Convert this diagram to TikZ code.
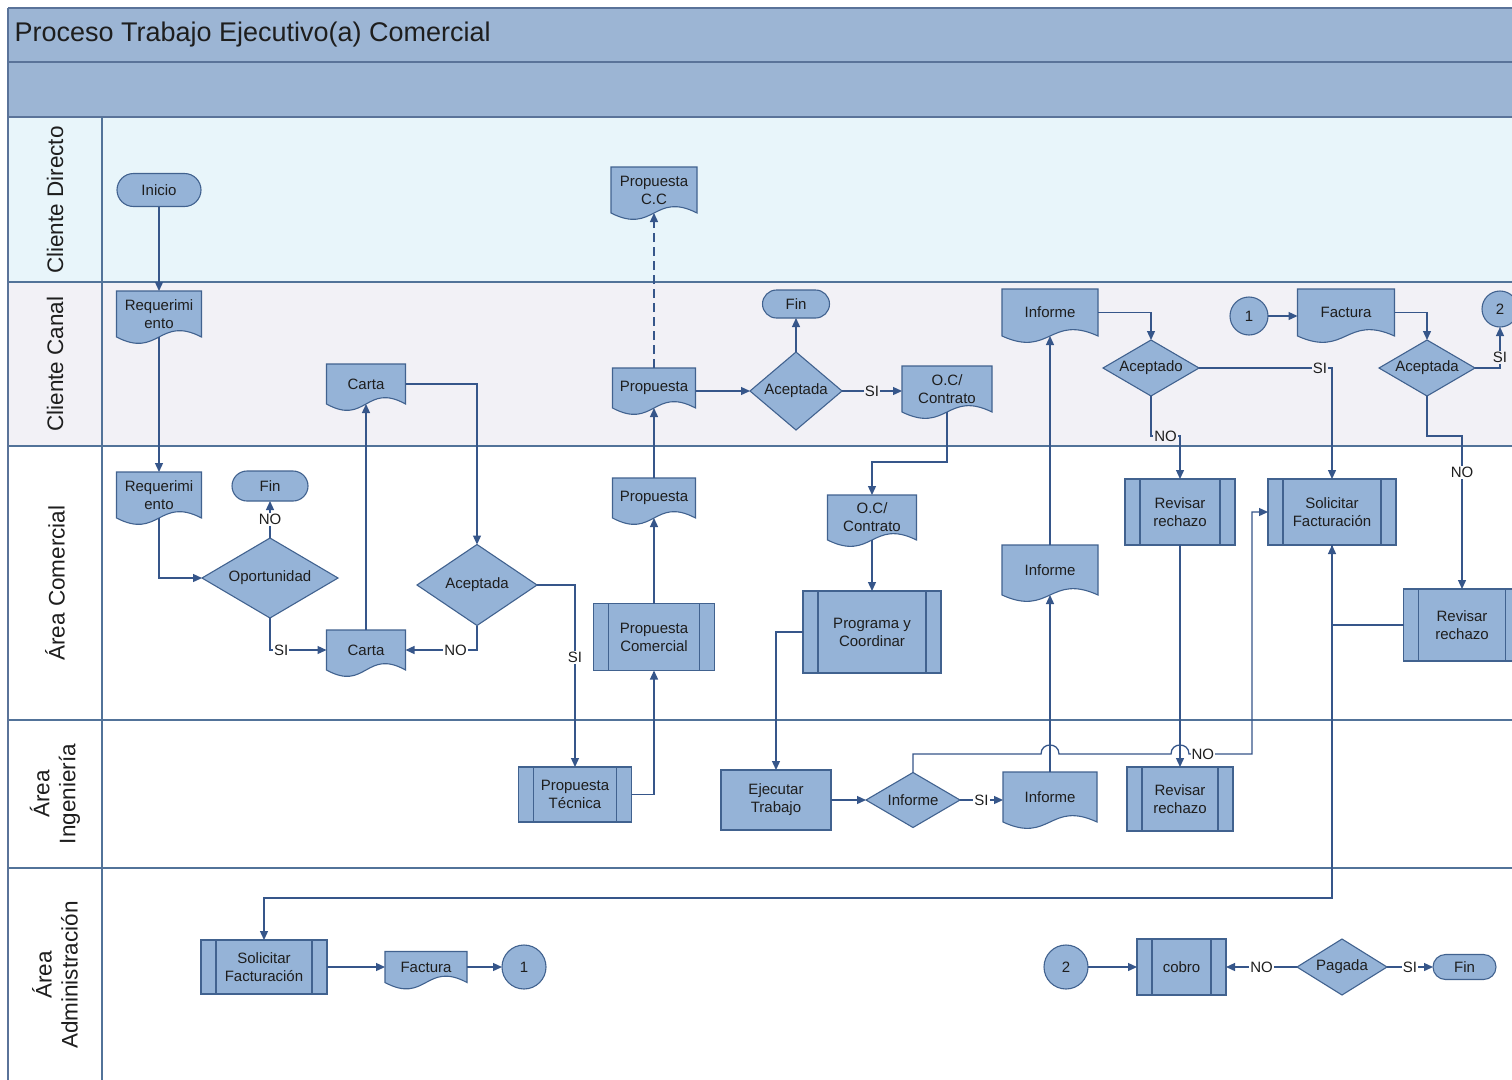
\documentclass[tikz,border=0pt]{standalone}
\usepackage{fontspec}
\setmainfont{Liberation Sans}
\usetikzlibrary{arrows.meta,shapes.geometric,shapes.misc}

\definecolor{boxfill}{HTML}{95B3D7}
\definecolor{boxline}{HTML}{41628F}
\definecolor{wire}{HTML}{36568A}
\definecolor{laneline}{HTML}{527399}
\definecolor{headline}{HTML}{5A7399}
\definecolor{headfill}{HTML}{9CB5D4}
\definecolor{directo}{HTML}{E8F5FA}
\definecolor{canal}{HTML}{F2F1F6}
\definecolor{inktext}{HTML}{1E1E1E}

\tikzset{
  base/.style={draw=boxline, fill=boxfill, line width=1.1pt, text=inktext,
    font=\fontsize{15}{18}\selectfont, align=center, inner sep=0pt, outer sep=0pt},
  terminal/.style={base, rounded rectangle},
  decision/.style={base, diamond, aspect=2},
  procbox/.style={base, rectangle},
  subproc/.style={base, rectangle, path picture={
     \draw[boxline, line width=1.1pt]
       ([xshift=15pt]path picture bounding box.north west) -- ([xshift=15pt]path picture bounding box.south west);
     \draw[boxline, line width=1.1pt]
       ([xshift=-15pt]path picture bounding box.north east) -- ([xshift=-15pt]path picture bounding box.south east);}},
  joint/.style={base, circle},
  doctext/.style={rectangle, text=inktext, font=\fontsize{15}{18}\selectfont,
    align=center, inner sep=0pt, outer sep=0pt},
  docfill/.style={draw=boxline, fill=boxfill, line width=1.1pt},
  conn/.style={draw=wire, line width=1.3pt, -{Triangle[length=9pt,width=8pt]}},
  lbl/.style={font=\fontsize{15}{15}\selectfont, text=inktext, inner sep=1pt, fill=#1},
  lbl/.default=white,
  lanelbl/.style={rotate=90, font=\fontsize{22.5}{26}\selectfont, align=center, text=inktext},
}

% document symbol: flat top, wavy bottom; #1 name, #2 centre x, #3 top y, #4 width, #5 side height, #6 text
\newcommand\docnode[6]{%
  \pgfmathsetmacro\dl{#2-#4/2}%
  \pgfmathsetmacro\dr{#2+#4/2}%
  \pgfmathsetmacro\db{#3+#5}%
  \filldraw[docfill] (\dl,#3) -- (\dr,#3) -- (\dr,\db)
     .. controls (#2,\db-22) and (#2,\db+22) .. (\dl,\db) -- cycle;
  \node[doctext, minimum width=#4pt, minimum height=#5pt] (#1) at (#2,#3+#5/2) {#6};
}

\begin{document}
\begin{tikzpicture}[x=1pt, y=-1pt]
\useasboundingbox (0,0) rectangle (1512,1079);
\clip (0,0) rectangle (1512,1079);

% ---------- pool, header and lanes ----------
\fill[headfill] (8,8) rectangle (1530,117);
\fill[directo] (8,117) rectangle (1530,282);
\fill[canal] (8,282) rectangle (1530,446);
\fill[white] (8,446) rectangle (1530,1090);

\draw[headline, line width=2.6pt] (8,8) -- (1530,8);
\draw[headline, line width=2.6pt] (8,62) -- (1530,62);
\draw[headline, line width=2.6pt] (8,117) -- (1530,117);
\draw[laneline, line width=2pt] (8,282) -- (1530,282);
\draw[laneline, line width=2pt] (8,446) -- (1530,446);
\draw[laneline, line width=2pt] (8,720) -- (1530,720);
\draw[laneline, line width=2pt] (8,868) -- (1530,868);
\draw[headline, line width=2.2pt] (8,8) -- (8,1090);
\draw[laneline, line width=2pt] (102,117) -- (102,1090);

\node[anchor=west, font=\fontsize{27}{30}\selectfont, text=inktext] (title) at (11,35)
  {Proceso Trabajo Ejecutivo(a) Comercial};

\node[lanelbl] (lnDir) at (55,200) {Cliente Directo};
\node[lanelbl] (lnCan) at (55,364) {Cliente Canal};
\node[lanelbl] (lnCom) at (55,583) {Área Comercial};
\node[lanelbl] (lnIng) at (55,794) {Área\\Ingeniería};
\node[lanelbl] (lnAdm) at (55,975) {Área\\Administración};

% ---------- Cliente Directo / Cliente Canal ----------
\node[terminal, minimum width=84pt, minimum height=33pt] (inicio) at (159,190) {Inicio};
\docnode{reqA}{159}{291}{85}{46}{Requerimi\\ento}
\docnode{cartaA}{366}{364}{79}{40}{Carta}
\docnode{propCC}{654}{167}{86}{46}{Propuesta\\C.C}
\docnode{propA}{654}{368}{83}{40}{Propuesta}
\node[terminal, minimum width=67pt, minimum height=28pt] (finA) at (796,304) {Fin};
\node[decision, minimum width=92pt, minimum height=78pt] (acepA) at (796,391) {Aceptada};
\docnode{ocA}{947}{366}{90}{46}{O.C/\\Contrato}
\docnode{infA}{1050}{289}{96}{47}{Informe}
\node[decision, minimum width=96pt, minimum height=56pt] (acepdo) at (1151,368) {Aceptado};
\node[joint, minimum size=38pt] (c1A) at (1249,316) {1};
\docnode{factA}{1346}{289}{97}{47}{Factura}
\node[decision, minimum width=96pt, minimum height=56pt] (acepR) at (1427,368) {Aceptada};
\node[joint, minimum size=36pt] (c2A) at (1500,309) {2};

% ---------- Área Comercial ----------
\docnode{reqB}{159}{472}{85}{46}{Requerimi\\ento}
\node[terminal, minimum width=76pt, minimum height=30pt] (finB) at (270,486) {Fin};
\node[decision, minimum width=136pt, minimum height=80pt] (oport) at (270,578) {Oportunidad};
\docnode{cartaB}{366}{630}{79}{40}{Carta}
\node[decision, minimum width=120pt, minimum height=81pt] (acepB) at (477,585) {Aceptada};
\docnode{propB}{654}{478}{83}{40}{Propuesta}
\node[subproc, minimum width=121pt, minimum height=67pt] (propCom) at (654,637) {Propuesta\\Comercial};
\docnode{ocB}{872}{495}{89}{45}{O.C/\\Contrato}
\node[subproc, minimum width=138pt, minimum height=82pt] (prog) at (872,632) {Programa y\\Coordinar};
\docnode{infB}{1050}{545}{96}{50}{Informe}
\node[subproc, minimum width=110pt, minimum height=66pt] (revB) at (1180,512) {Revisar\\rechazo};
\node[subproc, minimum width=128pt, minimum height=66pt] (solB) at (1332,512) {Solicitar\\Facturación};
\node[subproc, minimum width=117pt, minimum height=72pt] (revR) at (1462,625) {Revisar\\rechazo};

% ---------- Área Ingeniería ----------
\node[subproc, minimum width=113pt, minimum height=55pt] (propTec) at (575,794.5) {Propuesta\\Técnica};
\node[procbox, minimum width=110pt, minimum height=60pt] (ejec) at (776,800) {Ejecutar\\Trabajo};
\node[decision, minimum width=94pt, minimum height=55pt] (infD) at (913,800) {Informe};
\docnode{infC}{1050}{772}{94}{50}{Informe}
\node[subproc, minimum width=106pt, minimum height=64pt] (revC) at (1180,799) {Revisar\\rechazo};

% ---------- Área Administración ----------
\node[subproc, minimum width=126pt, minimum height=54pt] (solC) at (264,967) {Solicitar\\Facturación};
\docnode{factC}{426}{951.5}{82}{31}{Factura}
\node[joint, minimum size=44pt] (c1C) at (524,967) {1};
\node[joint, minimum size=44pt] (c2C) at (1066,967) {2};
\node[subproc, minimum width=89pt, minimum height=56pt] (cobro) at (1181.5,967) {cobro};
\node[decision, minimum width=90pt, minimum height=56pt] (pagada) at (1342,967) {Pagada};
\node[terminal, minimum width=63pt, minimum height=25pt] (finC) at (1464.5,967) {Fin};

% ---------- connectors ----------
\draw[conn] (inicio.south) -- (reqA.north);
\draw[conn] (reqA.south) -- (reqB.north);
\draw[conn] (reqB.south) |- (oport.west);
\draw[conn] (oport.north) -- node[lbl] (lNo1) {NO} (finB.south);
\draw[conn] (oport.south) |- node[lbl, pos=0.6] (lSi1) {SI} (cartaB.west);
\draw[conn] (cartaB.north) -- (cartaA.south);
\draw[conn] (cartaA.east) -| (acepB.north);
\draw[conn] (acepB.south) |- node[lbl, pos=0.65] (lNo2) {NO} (cartaB.east);
\draw[conn] (acepB.east) -| node[lbl, pos=0.7] (lSi2) {SI} (propTec.north);
\draw[conn] (propTec.east) -| (propCom.south);
\draw[conn] (propCom.north) -- (propB.south);
\draw[conn] (propB.north) -- (propA.south);
\draw[conn, dash pattern=on 9pt off 5pt] (propA.north) -- (propCC.south);
\draw[conn] (propA.east |- acepA.west) -- (acepA.west);
\draw[conn] (acepA.north) -- (finA.south);
\draw[conn] (acepA.east) -- node[lbl=canal] (lSi3) {SI} (acepA.east -| ocA.west);
\draw[conn] (ocA.south) -- ++(0,50) -| (ocB.north);
\draw[conn] (ocB.south) -- (prog.north);
\draw[conn] (prog.west) -| (ejec.north);
\draw[conn] (ejec.east) -- (infD.west);
\draw[conn] (infD.east) -- node[lbl] (lSi4) {SI} (infD.east -| infC.west);
\draw[conn] (infD.north) -- (913,754) -- (1041,754)
   .. controls (1041,742) and (1059,742) .. (1059,754) -- (1171,754)
   .. controls (1171,742) and (1189,742) .. (1189,754)
   -- node[lbl, pos=0.22] (lNo3) {NO} (1252,754) -- (1252,512) -- (solB.west);
\draw[conn] (infC.north) -- (infB.south);
\draw[conn] (infB.north) -- (infA.south);
\draw[conn] (infA.east) -| (acepdo.north);
\draw[conn] (acepdo.south) -- (1151,436) -- node[lbl=canal] (lNo4) {NO} (1180,436) -- (revB.north);
\draw[conn] (acepdo.east) -- node[lbl=canal, pos=0.91] (lSi5) {SI} (1332,368) -- (solB.north);
\draw[conn] (revB.south) -- (revC.north);
\draw[conn] (revR.west) -| (solB.south);
\draw[conn] (solB.south) -- (1332,898) -| (solC.north);
\draw[conn] (c1A.east) -- (c1A.east -| factA.west);
\draw[conn] (factA.east) -| (acepR.north);
\draw[conn] (acepR.south) -- (1427,436) -- (1462,436) -- node[lbl, pos=0.24] (lNo5) {NO} (revR.north);
\draw[conn] (acepR.east) -- (1500,368) -- node[lbl=canal, pos=0.25] (lSi6) {SI} (c2A.south);
\draw[conn] (solC.east) -- (factC.west);
\draw[conn] (factC.east) -- (c1C.west);
\draw[conn] (c2C.east) -- (cobro.west);
\draw[conn] (pagada.west) -- node[lbl] (lNo6) {NO} (cobro.east);
\draw[conn] (pagada.east) -- node[lbl] (lSi7) {SI} (finC.west);
\end{tikzpicture}
\end{document}
